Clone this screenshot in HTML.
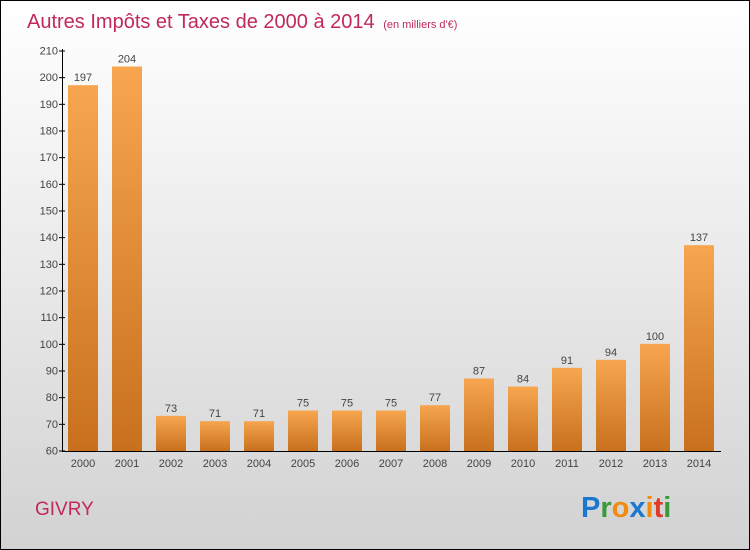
<!DOCTYPE html>
<html><head><meta charset="utf-8"><style>
body{margin:0;}
#c{position:relative;width:748px;height:548px;border:1px solid #000;background:linear-gradient(#ffffff,#f2f2f2 30%,#d2d2d2);font-family:"Liberation Sans",sans-serif;overflow:hidden;}
</style></head><body>
<div id="c">
<svg width="748" height="548" id="s" style="position:absolute;left:0;top:0;">
<defs><linearGradient id="g" x1="0" y1="0" x2="0" y2="1"><stop offset="0" stop-color="#f7a64f"/><stop offset="1" stop-color="#c8701e"/></linearGradient></defs>
<text x="26" y="27" font-size="20" fill="#c0285e">Autres Impôts et Taxes de 2000 à 2014 <tspan font-size="11" dx="3">(en milliers d'€)</tspan></text>
<text x="34" y="514" font-size="19" fill="#c0285e">GIVRY</text>
<text x="580" y="516" font-size="29" font-weight="bold"><tspan fill="#1a78d0">P</tspan><tspan fill="#3a9a3a">r</tspan><tspan fill="#f08a10">o</tspan><tspan fill="#1a78d0">x</tspan><tspan fill="#f08a10">i</tspan><tspan fill="#e03a2a">t</tspan><tspan fill="#3a9a3a">i</tspan></text>
</svg>
</div>
<script>
const years=["2000","2001","2002","2003","2004","2005","2006","2007","2008","2009","2010","2011","2012","2013","2014"];
const values=[197,204,73,71,71,75,75,75,77,87,84,91,94,100,137];
const yTicks=[60,70,80,90,100,110,120,130,140,150,160,170,180,190,200,210];
const s=document.getElementById('s');const NS='http://www.w3.org/2000/svg';
const y=v=>449.5-(v-60)*400/150;
const x=i=>82+i*44;
function mk(t,a){const e=document.createElementNS(NS,t);for(const k in a)e.setAttribute(k,a[k]);s.appendChild(e);return e;}
let ax=mk('line',{x1:61.5,y1:48,x2:61.5,y2:450.5,stroke:'#000'});


let bx=mk('line',{x1:61,y1:450.5,x2:720,y2:450.5,stroke:'#000'});


yTicks.forEach(v=>{
 const t=mk('line',{x1:58,x2:64,y1:y(v)+.5,y2:y(v)+.5,stroke:'#000'});
 
 
 const l=mk('text',{x:57,y:y(v)+4,'font-size':11,'text-anchor':'end',fill:'#444'});l.textContent=v;
 
 
});
values.forEach((v,i)=>{
 const r=mk('rect',{x:x(i)-15,y:y(v),width:30,height:450-y(v),fill:'url(#g)'});
 
 
 const t=mk('text',{x:x(i),y:y(v)-4,'font-size':11,'text-anchor':'middle',fill:'#444'});t.textContent=v;
 
 
 const k=mk('text',{x:x(i),y:466,'font-size':11,'text-anchor':'middle',fill:'#444'});k.textContent=years[i];
 
 
});
</script>
</body></html>
